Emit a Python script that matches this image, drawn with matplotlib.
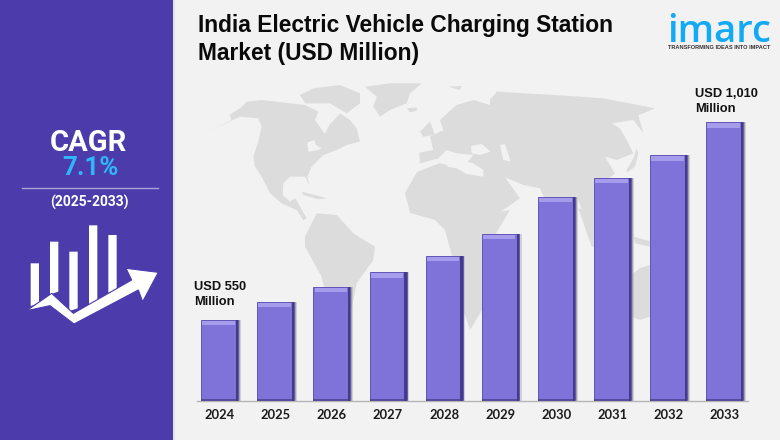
import matplotlib
matplotlib.use("Agg")
import matplotlib.pyplot as plt
from matplotlib.patches import Polygon, Rectangle, Circle

years = ["2024", "2025", "2026", "2027", "2028", "2029", "2030", "2031", "2032", "2033"]
market_usd_million = [550, 592, 627, 661, 699, 750, 836, 880, 933, 1010]
title_text = "India Electric Vehicle Charging Station\nMarket (USD Million)"
first_label = "USD 550\nMillion"
last_label = "USD 1,010\nMillion"
cagr_label = "CAGR"
cagr_value = "7.1%"
cagr_period = "(2025-2033)"
logo_name = "imarc"
logo_tagline = "TRANSFORMING IDEAS INTO IMPACT"

W, H = 780, 440
BG = "#f2f2f2"
LAND = "#dcdcdc"
PANEL = "#4b3bab"
BODY = "#7f72d8"
LIGHT = "#a59cec"
DARK = "#453a86"

fig = plt.figure(figsize=(W / 100, H / 100), dpi=100, facecolor=BG)

# full-figure pixel canvas for background art
bg = fig.add_axes([0, 0, 1, 1], zorder=0)
bg.set_xlim(0, W)
bg.set_ylim(H, 0)
bg.axis("off")


def z4(pts):
    return [(190 + x / 3, 70 + y / 3) for x, y in pts]


def z5(pts):
    return [(470 + x / 3, 70 + y / 3) for x, y in pts]


def land(pts, color=LAND, z=1):
    bg.add_patch(Polygon(pts, closed=True, fc=color, ec="none", zorder=z))


# decorative world map
land(z4([(60, 182), (125, 150), (118, 135), (150, 115), (170, 95), (215, 90), (300, 100), (345, 105),
         (385, 125), (375, 150), (405, 192), (418, 165), (450, 130), (480, 150), (500, 175), (510, 215),
         (470, 225), (440, 240), (400, 255), (365, 290), (352, 320), (358, 345), (345, 320), (300, 320),
         (280, 340), (278, 375), (300, 395), (315, 385), (325, 400), (350, 445), (340, 450), (320, 420),
         (275, 400), (240, 370), (215, 320), (195, 290), (190, 260), (205, 215), (215, 170), (205, 145),
         (150, 140)]))
land(z4([(330, 75), (370, 55), (450, 45), (510, 70), (510, 100), (470, 130), (420, 100), (345, 100)]))
land(z4([(525, 50), (600, 40), (695, 40), (660, 70), (650, 100), (600, 120), (570, 140), (550, 110), (560, 80)]))
land(z4([(650, 115), (680, 112), (680, 122), (660, 127)]))
land(z4([(775, 50), (815, 48), (810, 60)]))
land(z4([(335, 365), (375, 375), (410, 385), (385, 388), (340, 375)]))
land(z4([(345, 500), (380, 430), (440, 435), (490, 490), (555, 530), (550, 570), (500, 640), (490, 690),
         (470, 780), (430, 780), (410, 690), (395, 620), (345, 530)]))
land(z4([(690, 185), (720, 155), (735, 195), (700, 200)]))
# Great Lakes (small)
land(z4([(352, 218), (372, 210), (378, 225), (395, 235), (385, 240), (355, 245)]), BG, 2)
# Africa
land([(405, 193), (417, 172), (440, 163), (457, 168), (480, 173), (485, 180), (499, 212), (510, 210),
      (495, 235), (490, 265), (485, 305), (470, 330), (460, 300), (453, 260), (445, 230), (435, 220), (410, 213)])
# Eurasia
land(z4([(690, 280), (688, 248), (730, 240), (720, 200), (760, 180), (750, 150), (800, 105), (850, 90), (900, 105)])
     + z5([(60, 90), (80, 65), (200, 72), (300, 78), (400, 85), (555, 115), (520, 130), (505, 135), (520, 190),
           (490, 150), (425, 160), (450, 175), (470, 210), (490, 250), (440, 270), (405, 260), (435, 310),
           (400, 340), (410, 380), (395, 540), (365, 510), (320, 375), (285, 520), (210, 355), (160, 345),
           (105, 322), (150, 385), (85, 430), (40, 330), (25, 305), (0, 310), (-10, 280)])
     + z4([(850, 255), (800, 250), (770, 240), (745, 265)]))
land(z5([(3, 228), (35, 222), (62, 245), (30, 255), (5, 250)]), BG, 2)
land(z5([(90, 225), (105, 222), (122, 275), (100, 270)]), BG, 2)
land(z4([(770, 290), (800, 265), (850, 280), (880, 300), (880, 320), (830, 312), (800, 295)]), BG, 2)
land(z5([(470, 300), (490, 265), (500, 235), (505, 250), (495, 290), (470, 308)]))
land(z5([(325, 415), (345, 420), (385, 530), (365, 530)]))
land(z5([(490, 500), (545, 515), (540, 530), (495, 520)]))
land([(620, 285), (640, 268), (660, 262), (672, 278), (672, 310), (640, 320), (620, 312)])

# left panel
bg.add_patch(Rectangle((173, 0), 2, H, fc="#e2e2e2", ec="none", zorder=3))
bg.add_patch(Rectangle((0, 0), 173, H, fc=PANEL, ec="none", zorder=4))
bg.text(88, 143, cagr_label, color="white", family="Roboto", weight="bold", fontsize=21,
        ha="center", va="center", zorder=5)
bg.text(90.5, 168, cagr_value, color="#2fb6f6", family="Roboto", weight="bold", fontsize=18.6,
        ha="center", va="center", zorder=5)
bg.plot([22, 158], [188.5, 188.5], color="#aaa5d8", lw=1, zorder=5)
bg.text(89, 202.5, cagr_period, color="white", family="Roboto", weight="bold", fontsize=10,
        ha="center", va="center", zorder=5)


def z1(pts):
    return [(x / 3, 100 + y / 3) for x, y in pts]


for x0, top, bottom in [(92, 490, 610), (150, 425, 575), (208, 455, 625), (267, 376, 605), (325, 405, 570)]:
    bg.add_patch(Polygon(z1([(x0, top), (x0 + 25, top), (x0 + 25, bottom), (x0, bottom + 8)]),
                         fc="white", ec="none", zorder=5))
bg.add_patch(Polygon(z1([(80, 632), (155, 580), (220, 640), (395, 540), (378, 505), (475, 517), (428, 605),
                         (415, 570), (222, 672), (150, 617)]), fc="white", ec=PANEL, lw=0.8, zorder=6))

# logo
bg.text(719, 42, logo_name, color="#12a9f5", family="Open Sans", weight="semibold", fontsize=27.5,
        ha="center", va="baseline", zorder=5)
bg.text(719, 47.5, logo_tagline, color="#333333", family="Liberation Sans", weight="bold", fontsize=4.1,
        ha="center", va="center", zorder=5)

# title
bg.text(198, 39.5, title_text, color="#0a0a0a", family="Liberation Sans", weight="bold", fontsize=16.4,
        ha="left", va="center", linespacing=1.24, zorder=5)

# chart axes: pixel frame x 197-748, baseline at y 401
PX_PER_USD = 0.43
Y0 = 362
ax = fig.add_axes([197 / W, (H - 401) / H, 551 / W, 341 / H], zorder=1)
ax.patch.set_alpha(0)
ax.set_xlim(-0.405, 9.417)
ax.set_ylim(Y0, Y0 + 341 / PX_PER_USD)
xs = list(range(len(years)))
BAR_W = 0.66
band = 4.5 / PX_PER_USD
edge_w = 2.2 / 56.1
base = [Y0] * len(xs)
heights = [v - Y0 for v in market_usd_million]
# soft shadow, body, dark right edge, light top bevel, dark foot
ax.bar([x + 0.05 for x in xs], heights, width=BAR_W, bottom=base, color="#a8a8a8", alpha=0.45, zorder=1)
ax.bar([x + 0.03 for x in xs], heights, width=BAR_W, bottom=base, color="#808080", alpha=0.55, zorder=1)
ax.bar(xs, heights, width=BAR_W, bottom=base, color=BODY, edgecolor="#6257b8", linewidth=0.7, zorder=2)
ax.bar([x + BAR_W / 2 - edge_w / 2 for x in xs], heights, width=edge_w, bottom=base, color=DARK, zorder=3)
ax.bar([x - edge_w / 2 for x in xs], [band] * len(xs), width=BAR_W - 2 * edge_w,
       bottom=[v - band - 1.5 for v in market_usd_million], color=LIGHT, linewidth=0, zorder=3)
ax.bar(xs, [4.5] * len(xs), width=BAR_W, bottom=base, color=DARK, zorder=3, alpha=0.7)

ax.set_xticks(xs, years, family="Lato", weight="bold", fontsize=9.3, color="#1a1a1a")
ax.tick_params(axis="x", length=0, pad=6)
ax.set_yticks([])
for s in ["top", "left", "right"]:
    ax.spines[s].set_visible(False)
ax.spines["bottom"].set_color("#b5b5b5")
ax.spines["bottom"].set_linewidth(1)

ax.annotate(first_label, xy=(xs[0], market_usd_million[0]), xytext=(-18.5, 8.5), textcoords="offset points",
            ha="left", va="bottom", family="Liberation Sans", weight="bold", fontsize=9.3,
            color="#111111", linespacing=1.4, annotation_clip=False)
ax.annotate(last_label, xy=(xs[-1], market_usd_million[-1]), xytext=(-21, 5), textcoords="offset points",
            ha="left", va="bottom", family="Liberation Sans", weight="bold", fontsize=9.3,
            color="#111111", linespacing=1.4, annotation_clip=False)

fig.savefig("out.png", dpi=100, facecolor=BG)
